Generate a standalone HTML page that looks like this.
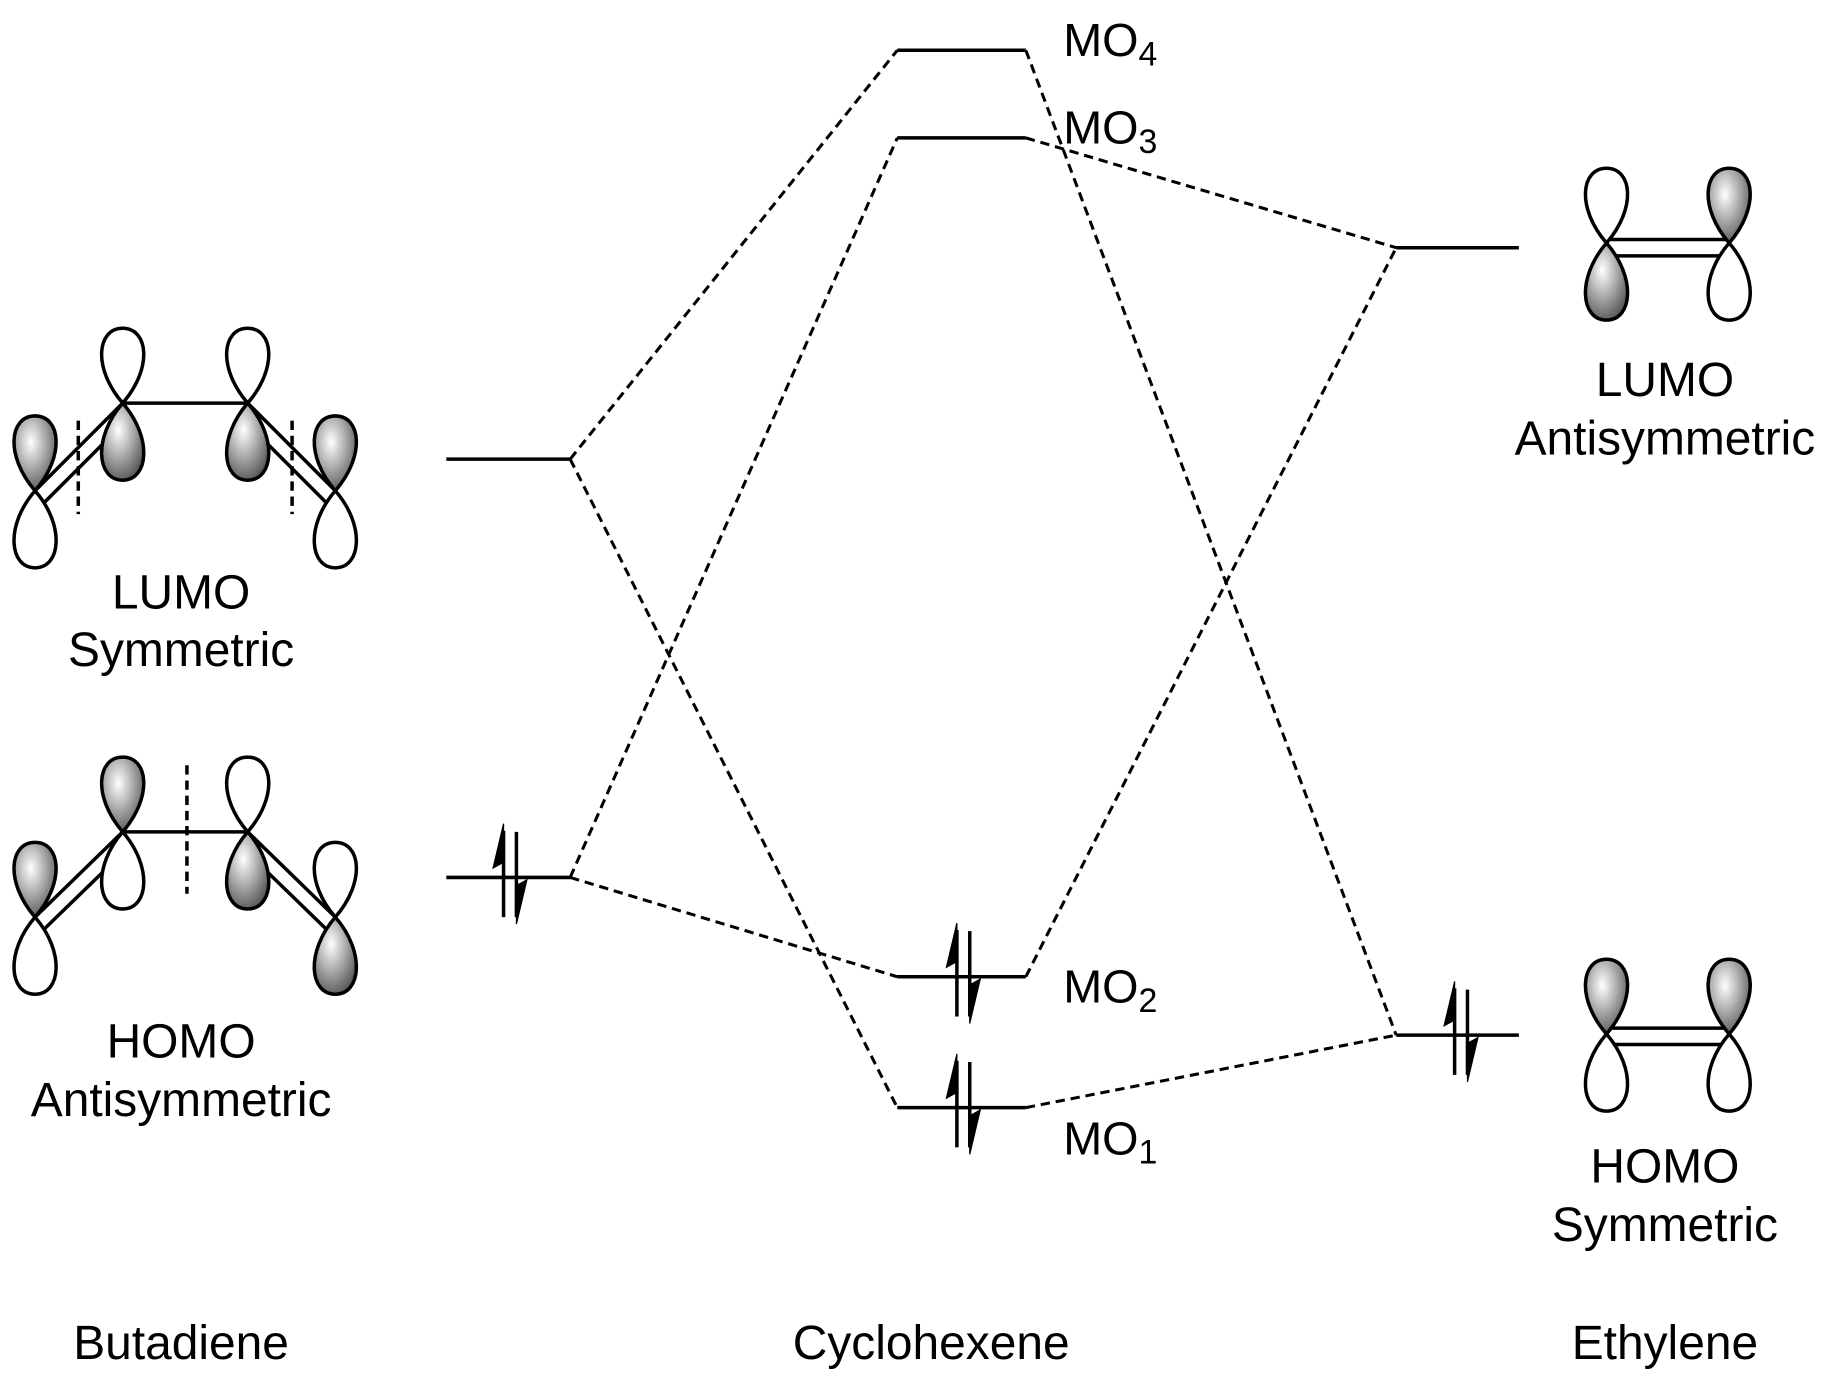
<!DOCTYPE html>
<html><head><style>html,body{margin:0;padding:0;background:#fff}svg{display:block}</style></head><body>
<svg width="1832" height="1381" viewBox="0 0 1568 1182" xmlns="http://www.w3.org/2000/svg" font-family="Liberation Sans, sans-serif">
<defs>
<radialGradient id="g" cx="0.4" cy="0.35" r="0.7"><stop offset="0" stop-color="#fff"/><stop offset="0.5" stop-color="#aaa"/><stop offset="1" stop-color="#555"/></radialGradient>
<path id="up" d="M0,0 C-26,-30 -22,-64 0,-64 C22,-64 26,-30 0,0 Z"/>
<path id="dn" d="M0,0 C-26,30 -22,66 0,66 C22,66 26,30 0,0 Z"/>
<g id="ea" stroke="#000" fill="#000">
<line x1="-3" y1="34" x2="-3" y2="-40" stroke-width="3"/><path d="M-3,-46 L-12,-8 L-3,-13 Z" stroke-width="1"/>
<line x1="8" y1="-39" x2="8" y2="34" stroke-width="3"/><path d="M8,40 L17,2 L8,7 Z" stroke-width="1"/>
</g>
</defs>
<g stroke="#000" stroke-width="3" fill="none">
<line x1="382" y1="393" x2="488" y2="393"/><line x1="382" y1="751" x2="488" y2="751"/>
<line x1="768" y1="43" x2="878" y2="43"/><line x1="768" y1="118" x2="878" y2="118"/>
<line x1="768" y1="836" x2="878" y2="836"/><line x1="768" y1="948" x2="878" y2="948"/>
<line x1="1195" y1="212" x2="1300" y2="212"/><line x1="1195" y1="886" x2="1300" y2="886"/>
</g>
<g stroke="#000" stroke-width="2.6" stroke-dasharray="8,5" fill="none">
<line x1="488" y1="393" x2="768" y2="43"/><line x1="488" y1="393" x2="768" y2="948"/>
<line x1="488" y1="751" x2="768" y2="118"/><line x1="488" y1="751" x2="768" y2="836"/>
<line x1="878" y1="43" x2="1195" y2="886"/><line x1="878" y1="118" x2="1195" y2="212"/>
<line x1="878" y1="836" x2="1195" y2="212"/><line x1="878" y1="948" x2="1195" y2="886"/>
<line x1="67" y1="360" x2="67" y2="440" stroke-width="3"/><line x1="250" y1="360" x2="250" y2="440" stroke-width="3"/>
<line x1="160" y1="655" x2="160" y2="765" stroke-width="3"/>
</g>
<use href="#ea" x="434" y="751"/><use href="#ea" x="822" y="836"/><use href="#ea" x="822" y="948"/><use href="#ea" x="1248" y="886"/>
<g stroke="#000" stroke-width="3">
<line x1="30" y1="420" x2="105" y2="345"/><line x1="38" y1="430" x2="105" y2="363"/>
<line x1="105" y1="345" x2="212" y2="345"/>
<line x1="212" y1="345" x2="287" y2="420"/><line x1="212" y1="363" x2="279" y2="430"/>
<line x1="30" y1="785" x2="105" y2="712"/><line x1="38" y1="795" x2="105" y2="730"/>
<line x1="105" y1="712" x2="212" y2="712"/>
<line x1="212" y1="712" x2="287" y2="785"/><line x1="212" y1="730" x2="279" y2="795"/>
<line x1="1375" y1="205" x2="1480" y2="205"/><line x1="1380" y1="219" x2="1475" y2="219"/>
<line x1="1375" y1="880" x2="1480" y2="880"/><line x1="1380" y1="894" x2="1475" y2="894"/>
</g>
<g stroke="#000" stroke-width="3">
<use href="#up" x="30" y="420" fill="url(#g)"/><use href="#dn" x="30" y="420" fill="#fff"/>
<use href="#up" x="105" y="345" fill="#fff"/><use href="#dn" x="105" y="345" fill="url(#g)"/>
<use href="#up" x="212" y="345" fill="#fff"/><use href="#dn" x="212" y="345" fill="url(#g)"/>
<use href="#up" x="287" y="420" fill="url(#g)"/><use href="#dn" x="287" y="420" fill="#fff"/>
<use href="#up" x="30" y="785" fill="url(#g)"/><use href="#dn" x="30" y="785" fill="#fff"/>
<use href="#up" x="105" y="712" fill="url(#g)"/><use href="#dn" x="105" y="712" fill="#fff"/>
<use href="#up" x="212" y="712" fill="#fff"/><use href="#dn" x="212" y="712" fill="url(#g)"/>
<use href="#up" x="287" y="785" fill="#fff"/><use href="#dn" x="287" y="785" fill="url(#g)"/>
<use href="#up" x="1375" y="208" fill="#fff"/><use href="#dn" x="1375" y="208" fill="url(#g)"/>
<use href="#up" x="1480" y="208" fill="url(#g)"/><use href="#dn" x="1480" y="208" fill="#fff"/>
<use href="#up" x="1375" y="885" fill="url(#g)"/><use href="#dn" x="1375" y="885" fill="#fff"/>
<use href="#up" x="1480" y="885" fill="url(#g)"/><use href="#dn" x="1480" y="885" fill="#fff"/>
</g>
<g font-size="41" text-anchor="middle" fill="#000">
<text x="155" y="521">LUMO</text><text x="155" y="570">Symmetric</text>
<text x="155" y="905">HOMO</text><text x="155" y="955">Antisymmetric</text>
<text x="1425" y="339">LUMO</text><text x="1425" y="389">Antisymmetric</text>
<text x="1425" y="1012">HOMO</text><text x="1425" y="1062">Symmetric</text>
<text x="155" y="1163">Butadiene</text><text x="797" y="1163">Cyclohexene</text><text x="1425" y="1163">Ethylene</text>
</g>
<g font-size="40" fill="#000">
<text x="910" y="48">MO<tspan font-size="29" dy="8">4</tspan></text>
<text x="910" y="123">MO<tspan font-size="29" dy="8">3</tspan></text>
<text x="910" y="858">MO<tspan font-size="29" dy="8">2</tspan></text>
<text x="910" y="988">MO<tspan font-size="29" dy="8">1</tspan></text>
</g>
</svg>
</body></html>
